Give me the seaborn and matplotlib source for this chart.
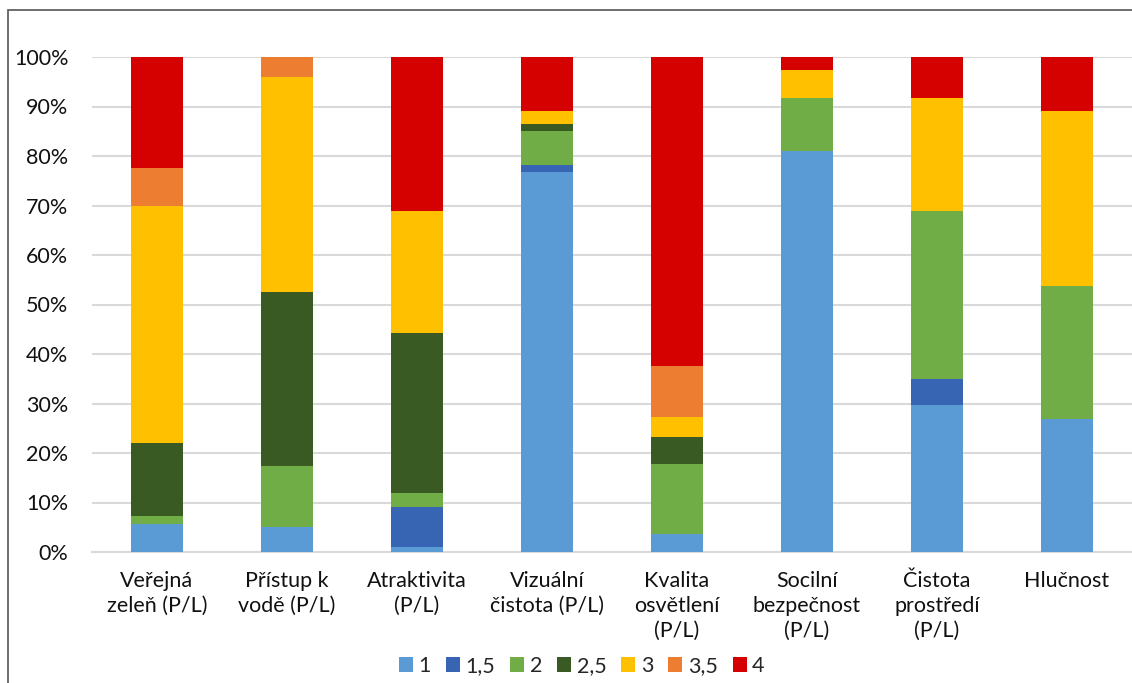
import numpy as np
import matplotlib
matplotlib.use("Agg")
import matplotlib.pyplot as plt
from matplotlib.patches import Rectangle, Patch
from matplotlib.ticker import PercentFormatter
import seaborn as sns

sns.set_theme(style="white")
plt.rcParams["font.family"] = ["Lato", "DejaVu Sans"]

categories = [
    "Veřejná\nzeleň (P/L)",
    "Přístup k\nvodě (P/L)",
    "Atraktivita\n(P/L)",
    "Vizuální\nčistota (P/L)",
    "Kvalita\nosvětlení\n(P/L)",
    "Socilní\nbezpečnost\n(P/L)",
    "Čistota\nprostředí\n(P/L)",
    "Hlučnost",
]

# share of answers (%) for each rating level
score_1 = [5.7, 5.1, 1.1, 76.8, 3.7, 81.1, 29.7, 26.8]
score_1_5 = [0.0, 0.0, 8.0, 1.4, 0.0, 0.0, 5.2, 0.0]
score_2 = [1.6, 12.3, 2.8, 6.8, 14.0, 10.7, 33.9, 27.0]
score_2_5 = [14.8, 35.2, 32.4, 1.4, 5.5, 0.0, 0.0, 0.0]
score_3 = [47.9, 43.4, 24.5, 2.7, 4.0, 5.5, 23.0, 35.3]
score_3_5 = [7.6, 4.0, 0.0, 0.0, 10.3, 0.0, 0.0, 0.0]
score_4 = [22.4, 0.0, 31.1, 10.9, 62.5, 2.7, 8.2, 10.9]

series_labels = ["1", "1,5", "2", "2,5", "3", "3,5", "4"]
series_values = [score_1, score_1_5, score_2, score_2_5, score_3, score_3_5, score_4]
series_colors = ["#5B9BD5", "#3864B4", "#70AD47", "#3A5A24", "#FFC000", "#ED7D31", "#D50000"]

W, H = 1132, 683
fig = plt.figure(figsize=(W / 100, H / 100), dpi=100)
fig.patch.set_facecolor("white")
ax = fig.add_axes([92 / W, (H - 552) / H, 1 - 92 / W, (552 - 57) / H])

bottom = np.zeros(len(categories))
for label, vals, col in zip(series_labels, series_values, series_colors):
    vals = np.asarray(vals, dtype=float)
    sns.barplot(x=categories, y=vals, bottom=bottom, color=col, width=0.4,
                saturation=1, linewidth=0, ax=ax, zorder=3)
    bottom = bottom + vals

ax.set_ylim(0, 100)
ax.set_xlim(-0.5, len(categories) - 0.5)
ax.set_yticks(np.arange(0, 101, 10))
ax.yaxis.set_major_formatter(PercentFormatter(100, decimals=0))
ax.yaxis.grid(True, color="#D9D9D9", linewidth=1.5, zorder=0)
ax.xaxis.grid(False)
for s in ["top", "right", "left"]:
    ax.spines[s].set_visible(False)
ax.spines["bottom"].set_color("#D9D9D9")
ax.spines["bottom"].set_linewidth(1.5)
ax.tick_params(axis="y", length=0, pad=17, labelsize=15.5, labelcolor="#111111")
ax.tick_params(axis="x", length=0, pad=14, labelsize=15.5, labelcolor="#111111")
for t in ax.get_xticklabels():
    t.set_linespacing(1.3)
ax.set_xlabel("")
ax.set_ylabel("")

handles = [Patch(facecolor=c, edgecolor="none") for c in series_colors]
fig.legend(handles, series_labels, loc="center", ncol=7, frameon=False,
           bbox_to_anchor=(582 / W, 1 - 666 / H), fontsize=15.5,
           handlelength=0.65, handleheight=0.65, handletextpad=0.25,
           columnspacing=0.7)

# outer chart border
fig.patches.append(Rectangle((8 / W, -0.05), 1.1, 1 - 10 / H + 0.05,
                             transform=fig.transFigure, fill=False,
                             edgecolor="#555555", linewidth=1.2))

fig.savefig("out.png", dpi=100)
